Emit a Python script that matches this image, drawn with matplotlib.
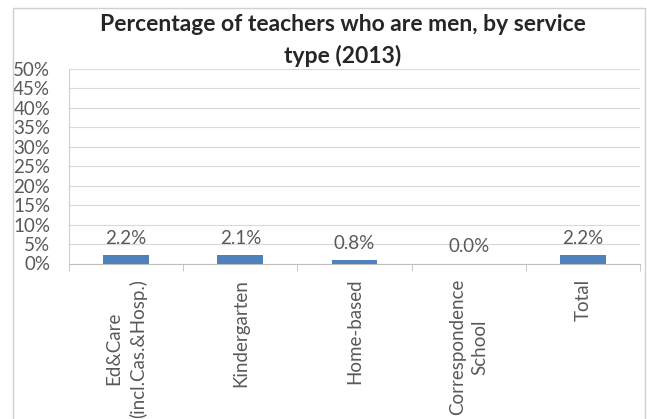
import matplotlib.pyplot as plt
from matplotlib.ticker import MultipleLocator, FuncFormatter

categories = ["Ed&Care\n(incl.Cas.&Hosp.)", "Kindergarten", "Home-based",
              "Correspondence\nSchool", "Total"]
values = [2.2, 2.1, 0.8, 0.0, 2.2]
value_labels = ["2.2%", "2.1%", "0.8%", "0.0%", "2.2%"]

plt.rcParams['font.family'] = ['Lato', 'DejaVu Sans']
text_col = '#595959'

W, H = 647, 419
fig = plt.figure(figsize=(W / 100, H / 100), dpi=100)
fig.patches.append(plt.Rectangle((13 / W, -0.1), 632 / W, 1.1 - 8 / H,
                                 transform=fig.transFigure, fill=False,
                                 edgecolor='#d0d0d0', linewidth=1))
ax = fig.add_axes([69 / W, (H - 263.5) / H, 571 / W, 194.5 / H])

x = list(range(len(categories)))
ax.bar(x, values, width=0.4, color='#4F81BD', zorder=3)
for xi, v, lab in zip(x, values, value_labels):
    ax.annotate(lab, (xi, v), xytext=(0, 12), textcoords='offset points',
                ha='center', va='center', fontsize=13.5, color=text_col)

ax.set_xlim(-0.5, len(categories) - 0.5)
ax.set_ylim(0, 50)
ax.yaxis.set_major_locator(MultipleLocator(5))
ax.yaxis.set_major_formatter(FuncFormatter(lambda v, p: f"{v:.0f}%"))
ax.grid(axis='y', color='#d9d9d9', linewidth=0.8, zorder=0)

ax.set_xticks(x)
ax.set_xticklabels(categories, rotation=90, fontsize=13.5, color=text_col,
                   multialignment='center', linespacing=1.4)
ax.set_xticks([i - 0.5 for i in range(len(categories) + 1)], minor=True)
ax.tick_params(axis='x', which='major', length=0, pad=11)
ax.tick_params(axis='x', which='minor', length=5, color='#bfbfbf')
ax.tick_params(axis='y', length=0, labelsize=13.5, labelcolor=text_col, pad=13.5)

for s in ['top', 'right']:
    ax.spines[s].set_visible(False)
ax.spines['left'].set_color('#d0d0d0')
ax.spines['bottom'].set_color('#bfbfbf')

fig.text(343 / W, 1 - 31 / H, "Percentage of teachers who are men, by service",
         ha='center', va='baseline', fontsize=16.5, fontweight='bold', color='#262626')
fig.text(343 / W, 1 - 63 / H, "type (2013)",
         ha='center', va='baseline', fontsize=16.5, fontweight='bold', color='#262626')

fig.savefig('out.png', dpi=100)
